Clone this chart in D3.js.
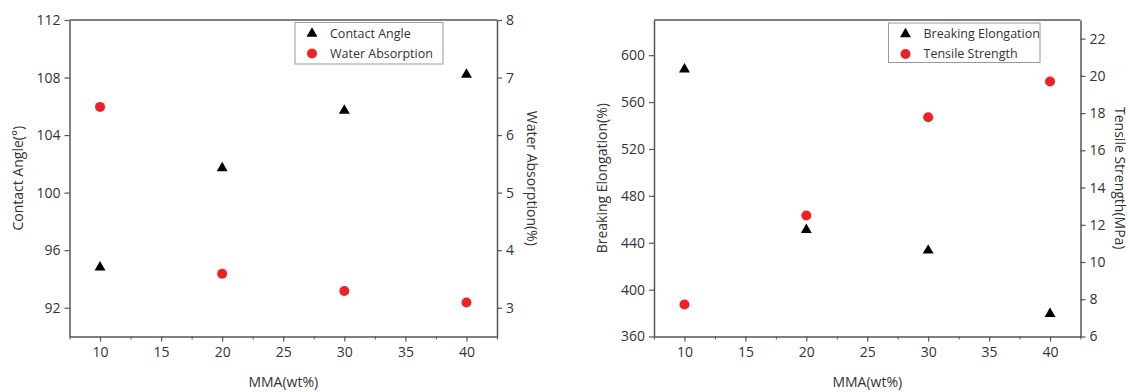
<!DOCTYPE html>
<html>
<head>
<meta charset="utf-8">
<script src="https://cdn.jsdelivr.net/npm/d3@7"></script>
<style>
body { margin: 0; background: #fff; }
svg text { font-family: "Open Sans", sans-serif; fill: #333; }
.axis path, .axis line { stroke: #555; }
</style>
</head>
<body>
<div id="chart"></div>
<script>
// data
let mma = [10, 20, 30, 40];
let contactAngle = [94.8, 101.7, 105.7, 108.2];
let waterAbsorption = [6.49, 3.59, 3.29, 3.09];
let breakingElongation = [588, 451, 433.4, 379.3];
let tensileStrength = [7.72, 12.5, 17.78, 19.7];

let xTicks = [10, 15, 20, 25, 30, 35, 40];
let xMinor = [7.5, 12.5, 17.5, 22.5, 27.5, 32.5, 37.5, 42.5];
let caTicks = [92, 96, 100, 104, 108, 112];
let waTicks = [3, 4, 5, 6, 7, 8];
let beTicks = [360, 400, 440, 480, 520, 560, 600];
let tsTicks = [6, 8, 10, 12, 14, 16, 18, 20, 22];

var svg = d3.select("#chart")
    .append("svg")
    .attr("width", 1130)
    .attr("height", 392);

var panels = [
    {
        left: 69.5, right: 497, top: 20, bottom: 336.5,
        yl: [90, 112], ylTicks: caTicks, ylTitle: "Contact Angle(°)", ylTitleX: 18,
        yr: [2.5, 8], yrTicks: waTicks, yrTitle: "Water Absorption(%)", yrTitleX: 532,
        tri: contactAngle, dot: waterAbsorption,
        names: ["Contact Angle", "Water Absorption"],
        legend: { x: 295, y: 22.5, w: 148, h: 41.5 }
    },
    {
        left: 654, right: 1080.5, top: 20, bottom: 336.5,
        yl: [360, 630], ylTicks: beTicks, ylTitle: "Breaking Elongation(%)", ylTitleX: 602,
        yr: [6, 23], yrTicks: tsTicks, yrTitle: "Tensile Strength(MPa)", yrTitleX: 1120,
        tri: breakingElongation, dot: tensileStrength,
        names: ["Breaking Elongation", "Tensile Strength"],
        legend: { x: 888.5, y: 23, w: 151.5, h: 39.5 }
    }
];

panels.forEach(drawPanel);

function drawPanel(p) {
    var x = d3.scaleLinear().domain([7.5, 42.5]).range([p.left, p.right]);
    var yL = d3.scaleLinear().domain(p.yl).range([p.bottom, p.top]);
    var yR = d3.scaleLinear().domain(p.yr).range([p.bottom, p.top]);
    var fmt = d3.format("d");

    var g = svg.append("g");

    // top frame line
    g.append("line")
        .attr("x1", p.left).attr("x2", p.right)
        .attr("y1", p.top).attr("y2", p.top)
        .attr("stroke", "#555").attr("stroke-width", 1.5);

    // minor x ticks
    g.append("g")
        .attr("class", "axis")
        .attr("transform", "translate(0," + p.bottom + ")")
        .call(d3.axisBottom(x).tickValues(xMinor).tickSize(3).tickFormat(""))
        .call(s => s.select(".domain").remove());

    var xa = g.append("g")
        .attr("class", "axis")
        .attr("transform", "translate(0," + p.bottom + ")")
        .call(d3.axisBottom(x).tickValues(xTicks).tickFormat(fmt).tickSize(5).tickSizeOuter(0).tickPadding(6));

    var ya = g.append("g")
        .attr("class", "axis")
        .attr("transform", "translate(" + p.left + ",0)")
        .call(d3.axisLeft(yL).tickValues(p.ylTicks).tickFormat(fmt).tickSize(5).tickSizeOuter(0).tickPadding(4));

    var yra = g.append("g")
        .attr("class", "axis")
        .attr("transform", "translate(" + p.right + ",0)")
        .call(d3.axisRight(yR).tickValues(p.yrTicks).tickFormat(fmt).tickSize(5).tickSizeOuter(0).tickPadding(4));

    [xa, ya, yra].forEach(a => {
        a.selectAll("text").style("font-size", "14px").attr("fill", "#333");
        a.select(".domain").attr("stroke-width", 1.5);
        a.selectAll(".tick line").attr("stroke-width", 1.2);
    });

    // axis titles
    g.append("text")
        .attr("x", (p.left + p.right) / 2)
        .attr("y", 387)
        .style("text-anchor", "middle")
        .style("font-size", "14px")
        .text("MMA(wt%)");

    g.append("text")
        .attr("transform", "translate(" + p.ylTitleX + "," + ((p.top + p.bottom) / 2) + ") rotate(-90)")
        .attr("dy", "0.35em")
        .style("text-anchor", "middle")
        .style("font-size", "14px")
        .text(p.ylTitle);

    g.append("text")
        .attr("transform", "translate(" + p.yrTitleX + "," + ((p.top + p.bottom) / 2) + ") rotate(90)")
        .attr("dy", "0.35em")
        .style("text-anchor", "middle")
        .style("font-size", "14px")
        .text(p.yrTitle);

    var tri = d3.symbol().type(d3.symbolTriangle).size(52);

    g.selectAll(".tri")
        .data(mma)
        .enter().append("path")
        .attr("class", "tri")
        .attr("d", tri)
        .attr("transform", (d, i) => "translate(" + x(d) + "," + yL(p.tri[i]) + ")")
        .attr("fill", "#000");

    g.selectAll(".dot")
        .data(mma)
        .enter().append("circle")
        .attr("class", "dot")
        .attr("cx", d => x(d))
        .attr("cy", (d, i) => yR(p.dot[i]))
        .attr("r", 5)
        .attr("fill", "#ec2227");

    // legend
    var lg = g.append("g").attr("transform", "translate(" + p.legend.x + "," + p.legend.y + ")");
    lg.append("rect")
        .attr("width", p.legend.w)
        .attr("height", p.legend.h)
        .attr("fill", "#fff")
        .attr("stroke", "#999")
        .attr("stroke-width", 1);
    lg.append("path")
        .attr("d", tri)
        .attr("transform", "translate(17,11)")
        .attr("fill", "#000");
    lg.append("circle")
        .attr("cx", 17).attr("cy", 31).attr("r", 5)
        .attr("fill", "#ec2227");
    lg.selectAll(".ltext")
        .data(p.names)
        .enter().append("text")
        .attr("x", 35)
        .attr("y", (d, i) => 11 + i * 20)
        .attr("dy", "0.35em")
        .style("font-size", "12.5px")
        .text(d => d);
}
</script>
</body>
</html>
